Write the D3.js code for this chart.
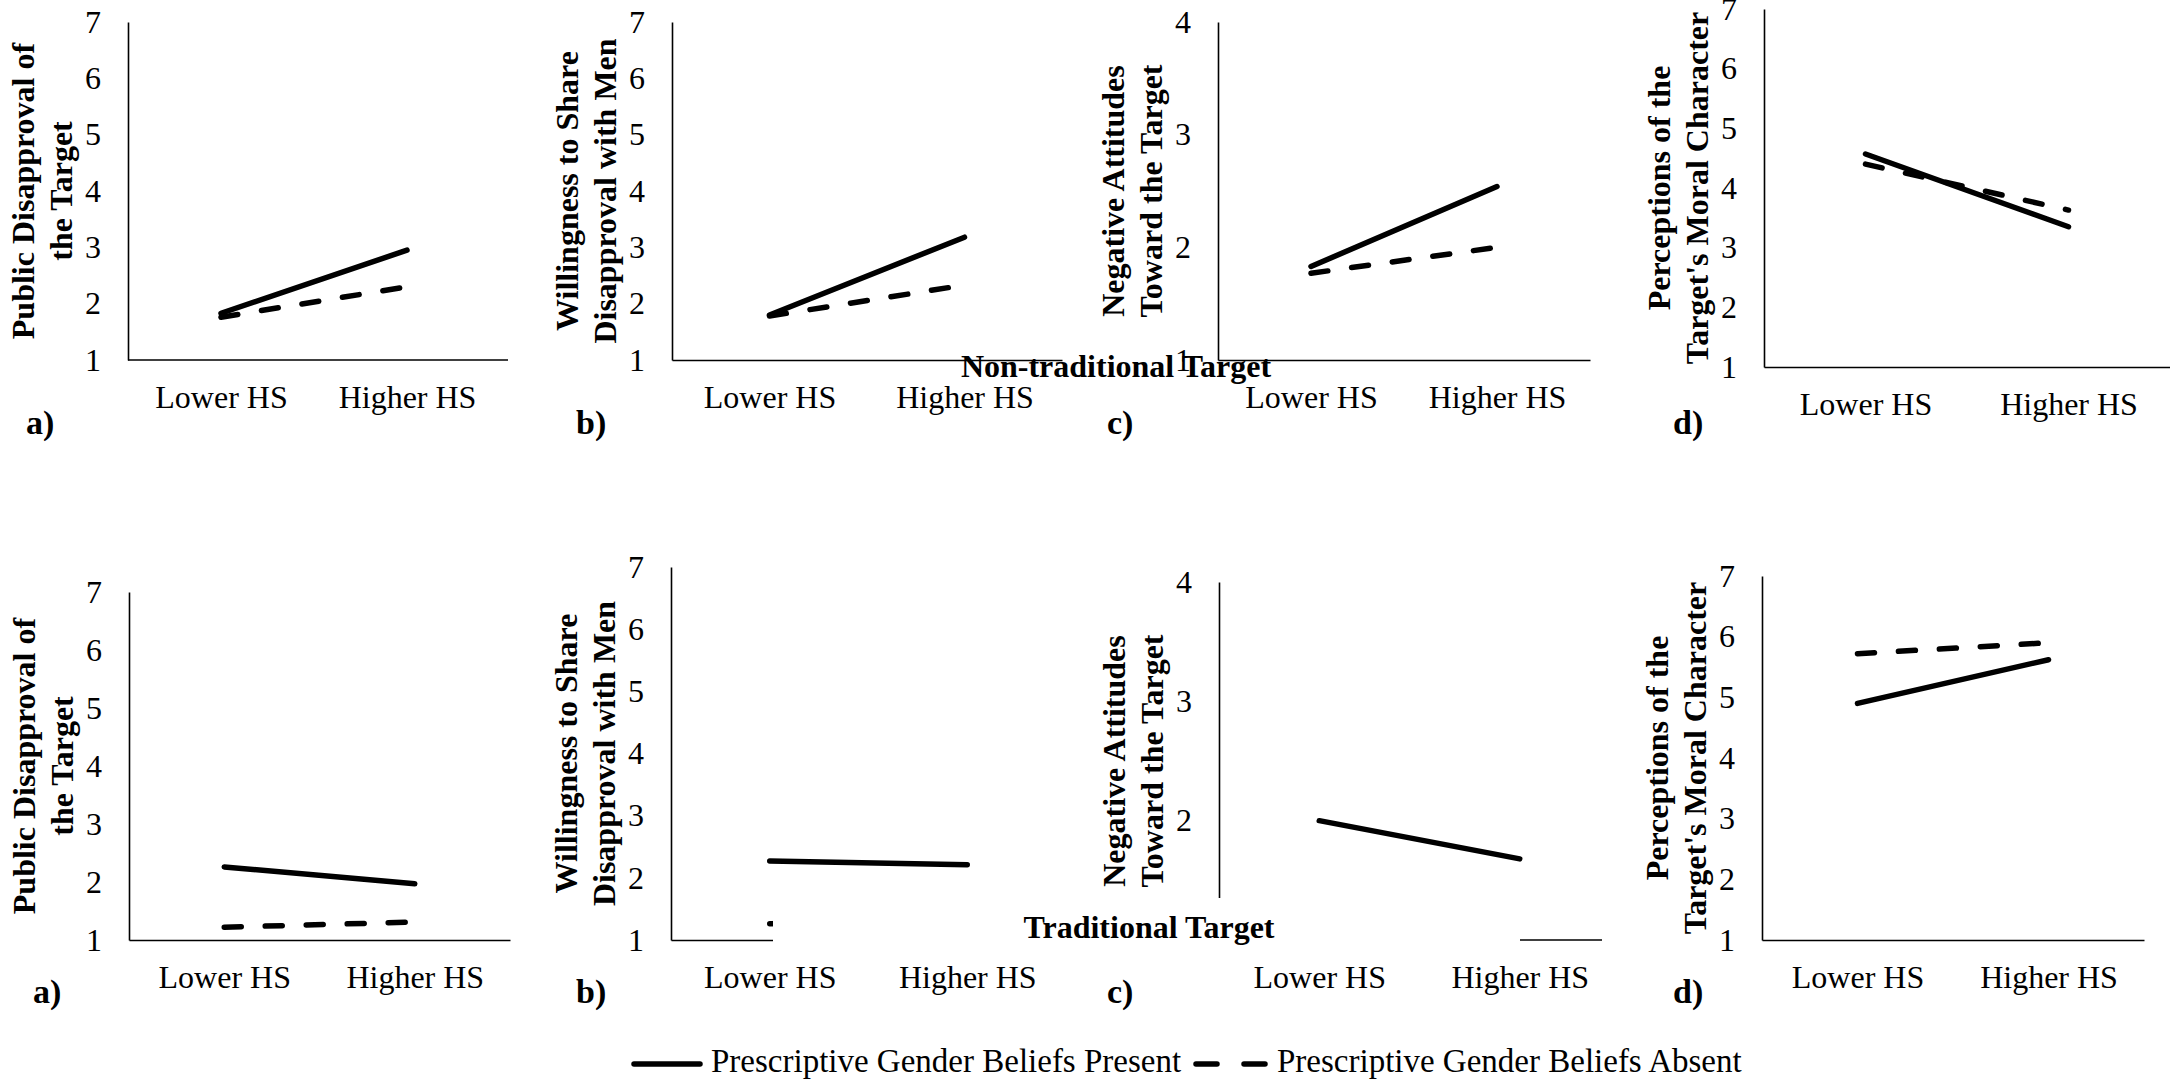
<!DOCTYPE html>
<html>
<head>
<meta charset="utf-8">
<script src="https://cdn.jsdelivr.net/npm/d3@7"></script>
<style>
  body { margin: 0; background: #fff; }
  svg text { font-family: "Liberation Serif", "Times New Roman", serif; fill: #000; }
</style>
</head>
<body>
<div id="graf"></div>
<script>
// Datos
const levels = ["Lower HS", "Higher HS"]
const seriesNames = ["Prescriptive Gender Beliefs Present", "Prescriptive Gender Beliefs Absent"]
const panelLetters = ["a)", "b)", "c)", "d)"]
const rowTitles = ["Non-traditional Target", "Traditional Target"]
const yTitles = [
  ["Public Disapproval of", "the Target"],
  ["Willingness to Share", "Disapproval with Men"],
  ["Negative Attitudes", "Toward the Target"],
  ["Perceptions of the", "Target's Moral Character"],
]
const yMax = [7, 7, 4, 7]

// [Lower HS, Higher HS] per panel
const nonTradPresent = [[1.83, 2.95], [1.80, 3.18], [1.83, 2.54], [4.57, 3.35]]
const nonTradAbsent = [[1.76, 2.30], [1.78, 2.33], [1.77, 2.00], [4.40, 3.63]]
const tradPresent = [[2.26, 1.97], [2.27, 2.21], [2.00, 1.68], [4.90, 5.62]]
const tradAbsent = [[1.22, 1.31], [1.26, 1.30], [1.25, 1.30], [5.72, 5.90]]

const draw = () => {
  const anchoTotal = 2170
  const altoTotal = 1081

  const svg = d3
    .select("#graf")
    .append("svg")
    .attr("width", anchoTotal)
    .attr("height", altoTotal)

  // Marcos de cada panel
  const rows = [
    {
      present: nonTradPresent,
      absent: nonTradAbsent,
      letterY: 434,
      frames: [
        { x0: 128, x1: 500, axisEnd: 508, top: 22, bottom: 360, lx: 26 },
        { x0: 672, x1: 1062, top: 22, bottom: 360, lx: 576 },
        { x0: 1218, x1: 1590, top: 22, bottom: 360, lx: 1107 },
        { x0: 1764, x1: 2170, top: 9, bottom: 367, lx: 1673 },
      ],
    },
    {
      present: tradPresent,
      absent: tradAbsent,
      letterY: 1003,
      frames: [
        { x0: 129, x1: 510, top: 592, bottom: 940, lx: 33 },
        { x0: 671, x1: 1066, top: 567, bottom: 940, lx: 576 },
        { x0: 1219, x1: 1620, axisEnd: 1602, top: 582, bottom: 940, lx: 1107 },
        { x0: 1762, x1: 2144, top: 576, bottom: 940, lx: 1673 },
      ],
    },
  ]

  const dash = "17,24"

  rows.forEach((row) => {
    row.frames.forEach((f, i) => {
      const x = d3.scalePoint().domain(levels).range([f.x0, f.x1]).padding(0.5)
      const y = d3.scaleLinear().domain([1, yMax[i]]).range([f.bottom, f.top])

      const g = svg.append("g")

      // Ejes
      const yAxis = d3
        .axisLeft(y)
        .tickValues(d3.range(1, yMax[i] + 1))
        .tickFormat(d3.format("d"))
        .tickSize(0)
        .tickPadding(27)
      const xAxis = d3.axisBottom(x).tickSize(0).tickPadding(25)

      const yG = g.append("g").attr("transform", `translate(${f.x0},0)`).call(yAxis)
      const xG = g.append("g").attr("transform", `translate(0,${f.bottom})`).call(xAxis)
      ;[yG, xG].forEach((a) => {
        a.attr("font-family", null).attr("font-size", null)
        a.select(".domain").attr("stroke", "#000").attr("stroke-width", 1.6)
        a.selectAll("text").style("font-size", "32px")
      })
      if (f.axisEnd) xG.select(".domain").attr("d", `M${f.x0},0H${f.axisEnd}`)

      // Lineas
      const line = d3
        .line()
        .x((d, j) => x(levels[j]))
        .y((d) => y(d))

      g.append("path")
        .attr("d", line(row.absent[i]))
        .attr("fill", "none")
        .attr("stroke", "#000")
        .attr("stroke-width", 5.5)
        .attr("stroke-linecap", "round")
        .attr("stroke-dasharray", dash)

      g.append("path")
        .attr("d", line(row.present[i]))
        .attr("fill", "none")
        .attr("stroke", "#000")
        .attr("stroke-width", 5.5)
        .attr("stroke-linecap", "round")

      // Titulo del eje Y
      const cy = (f.top + f.bottom) / 2
      yTitles[i].forEach((t, k) => {
        g.append("text")
          .attr("transform", `translate(${f.x0 - 94 + k * 38},${cy}) rotate(-90)`)
          .attr("text-anchor", "middle")
          .style("font-size", "32px")
          .style("font-weight", "bold")
          .text(t)
      })

      g.append("text")
        .attr("x", f.lx)
        .attr("y", row.letterY)
        .style("font-size", "34px")
        .style("font-weight", "bold")
        .text(panelLetters[i])
    })
  })

  // Titulos de fila
  svg
    .append("text")
    .attr("x", 1116)
    .attr("y", 377)
    .attr("text-anchor", "middle")
    .style("font-size", "32px")
    .style("font-weight", "bold")
    .text(rowTitles[0])

  svg
    .append("rect")
    .attr("x", 773)
    .attr("y", 898)
    .attr("width", 1520 - 773)
    .attr("height", 54)
    .attr("fill", "#fff")

  svg
    .append("text")
    .attr("x", 1149)
    .attr("y", 938)
    .attr("text-anchor", "middle")
    .style("font-size", "32px")
    .style("font-weight", "bold")
    .text(rowTitles[1])

  // Leyenda
  const legend = svg.append("g")
  legend
    .append("line")
    .attr("x1", 634)
    .attr("x2", 700)
    .attr("y1", 1064)
    .attr("y2", 1064)
    .attr("stroke", "#000")
    .attr("stroke-width", 5.5)
    .attr("stroke-linecap", "round")
  legend
    .append("text")
    .attr("x", 711)
    .attr("y", 1072)
    .style("font-size", "33px")
    .text(seriesNames[0])
  legend
    .append("line")
    .attr("x1", 1196)
    .attr("x2", 1265)
    .attr("y1", 1064)
    .attr("y2", 1064)
    .attr("stroke", "#000")
    .attr("stroke-width", 5.5)
    .attr("stroke-linecap", "round")
    .attr("stroke-dasharray", "21,27")
  legend
    .append("text")
    .attr("x", 1277)
    .attr("y", 1072)
    .style("font-size", "33px")
    .text(seriesNames[1])
}

draw()
</script>
</body>
</html>
